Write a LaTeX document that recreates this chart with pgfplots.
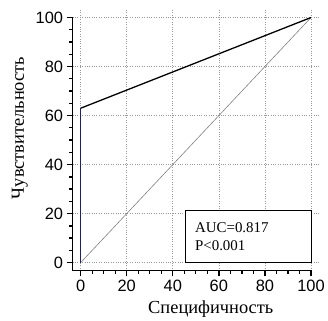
\documentclass[border=0pt]{standalone}
\usepackage{fontspec}
\setmainfont{Liberation Serif}
\newfontfamily\arialfont{Liberation Sans}
\usepackage{pgfplots}
\pgfplotsset{compat=1.18}
\definecolor{rocnavy}{RGB}{30,30,110}
\begin{document}
\begin{tikzpicture}
\begin{axis}[
  scale only axis, width=249pt, height=263pt,
  xmin=-3.5, xmax=104, ymin=-3.2, ymax=103.5,
  clip=false,
  axis line style={draw=none},
  xtick={0,20,...,100}, ytick={0,20,...,100},
  minor tick num=3,
  xtick pos=left, ytick pos=left,
  tick align=outside,
  major tick length=6pt, minor tick length=3.5pt,
  tick style={black, line width=1.3pt},
  grid=major,
  major grid style={gray!80, dotted, line width=0.6pt},
  ticklabel style={font=\arialfont\fontsize{16.5}{16.5}\selectfont},
  /pgf/number format/assume math mode=true,
  xlabel={Специфичность}, ylabel={Чувствительность},
  label style={font=\fontsize{18.5}{18.5}\selectfont},
  xlabel style={at={(axis description cs:0.558,-0.148)}, anchor=center},
  ylabel style={at={(axis description cs:-0.213,0.545)}, anchor=center},
]
\addplot[gray, line width=0.6pt] coordinates {(0,0) (100,100)};
\addplot[rocnavy, line width=1.2pt] coordinates {(0,0) (0,63)};
\addplot[black, line width=1.3pt] coordinates {(0,63) (100,100)};
\draw[black, line width=1.8pt] (axis cs:-3.5,100) -- (axis cs:-3.5,-3.2) -- (axis cs:100,-3.2);
\draw[black, line width=0.9pt, fill=white] (axis cs:45.7,0) rectangle (axis cs:100,21.5);
\node[anchor=base west, inner sep=0pt, font=\fontsize{15}{15}\selectfont] at (axis cs:49.6,12.1) {AUC=0.817};
\node[anchor=base west, inner sep=0pt, font=\fontsize{15}{15}\selectfont] at (axis cs:49.6,4.9) {P<0.001};
\end{axis}
\path (current axis.south west) ++(-73pt,-50pt) coordinate (bbA);
\path (current axis.north east) ++(6pt,9pt) coordinate (bbB);
\path (bbA) rectangle (bbB);
\end{tikzpicture}
\end{document}
